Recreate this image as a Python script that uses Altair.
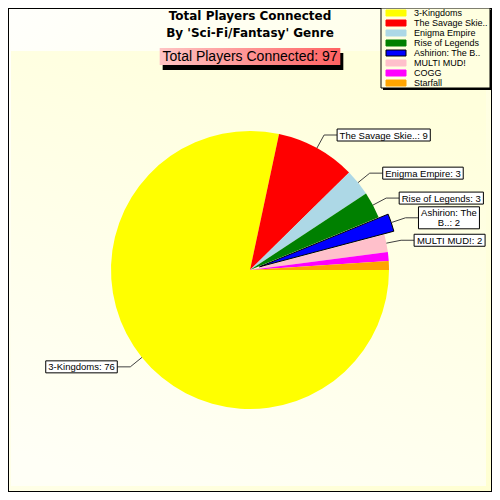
import math
import altair as alt
import pandas as pd

# ---------------- data ----------------
names = ["3-Kingdoms", "The Savage Skie..", "Enigma Empire", "Rise of Legends",
         "Ashirion: The B..", "MULTI MUD!", "COGG", "Starfall"]
values = [76, 9, 3, 3, 2, 2, 1, 1]
colors = ["#ffff00", "#ff0000", "#add8e6", "#008000", "#0000ff", "#ffc0cb", "#ff00ff", "#ffa500"]
exploded = ["Ashirion: The B.."]
min_labeled = 2
title_lines = ["Total Players Connected", "By 'Sci-Fi/Fantasy' Genre"]
total_caption = "Total Players Connected"

# ---------------- layout / style ----------------
W, H = 484, 484
CX, CY, R = 242, 262, 139
EXPLODE = 10
LABEL_FONT = "Liberation Sans"
LABEL_SIZE = 9.5
LINE_H = 10
LEG_X, LEG_Y, LEG_W, LEG_H = 373, 0, 109, 80

total = sum(values)

ARIAL = {" ": 278, "!": 278, "'": 191, "-": 333, ".": 278, "/": 278, ":": 278,
         "A": 667, "B": 667, "C": 722, "D": 722, "E": 667, "F": 611, "G": 778, "H": 722,
         "I": 278, "J": 500, "K": 667, "L": 556, "M": 833, "N": 722, "O": 778, "P": 667,
         "Q": 778, "R": 722, "S": 667, "T": 611, "U": 722, "V": 667, "W": 944, "X": 667,
         "Y": 667, "Z": 611, "a": 556, "b": 556, "c": 500, "d": 556, "e": 556, "f": 278,
         "g": 556, "h": 556, "i": 222, "j": 222, "k": 500, "l": 222, "m": 833, "n": 556,
         "o": 556, "p": 556, "q": 556, "r": 333, "s": 500, "t": 278, "u": 556, "v": 500,
         "w": 722, "x": 500, "y": 500, "z": 500}


def text_w(s, size):
    return sum(ARIAL.get(ch, 556) for ch in s) * size / 1000.0


def wrap(text, avail, size):
    words = text.split(" ")
    lines, cur = [], ""
    for w in words:
        cand = w if not cur else cur + " " + w
        if cur and text_w(cand, size) > avail:
            lines.append(cur)
            cur = w
        else:
            cur = cand
    lines.append(cur)
    return lines


pie_df = pd.DataFrame({
    "name": names, "value": values, "color": colors,
    "idx": list(range(len(names))),
    "exp": [1 if n in exploded else 0 for n in names],
})

theta_scale = alt.Scale(domain=[0, total], range=[math.pi / 2, math.pi / 2 + 2 * math.pi])
stacked = alt.Chart(pie_df).transform_stack(
    stack="value", groupby=[], as_=["start", "end"],
    sort=[alt.SortField("idx", order="ascending")])

pie = stacked.transform_filter("datum.exp == 0").mark_arc(radius=R).encode(
    theta=alt.Theta("start:Q", scale=theta_scale, stack=None),
    theta2="end:Q",
    color=alt.Color("color:N", scale=None),
    x=alt.value(CX), y=alt.value(CY))

layers_pie = [pie]
seg_rows, box_rows, txt_rows = [], [], []
cum = 0
for n, v in zip(names, values):
    mid = (cum + v / 2) / total
    cum += v
    ang = 2 * math.pi * mid
    c, s = math.cos(ang), math.sin(ang)
    off = EXPLODE if n in exploded else 0
    cx, cy = CX + off * c, CY + off * s
    if n in exploded:
        layers_pie.append(
            stacked.transform_filter(alt.FieldEqualPredicate(field="name", equal=n))
            .mark_arc(radius=R, stroke="black", strokeWidth=1)
            .encode(theta=alt.Theta("start:Q", scale=theta_scale, stack=None),
                    theta2="end:Q",
                    color=alt.Color("color:N", scale=None),
                    x=alt.value(cx), y=alt.value(cy)))
    if v < min_labeled:
        continue
    ex, ey = cx + R * c, cy + R * s
    kx, ky = cx + (R + 15) * c, cy + (R + 15) * s
    side = 1 if c >= 0 else -1
    hx = kx + 13 * side
    label = f"{n}: {v}"
    pad = 5
    if side > 0:
        avail = (W - 2) - hx - pad
    else:
        avail = hx - 2 - pad
    lines = wrap(label, avail, LABEL_SIZE)
    bw = max(text_w(l, LABEL_SIZE) for l in lines) + pad
    bh = 2 + LINE_H * len(lines)
    if side > 0:
        x0, x1 = hx, hx + bw
    else:
        x0, x1 = hx - bw, hx
    seg_rows.append({"x": ex, "y": ey, "x2": kx, "y2": ky})
    seg_rows.append({"x": kx, "y": ky, "x2": hx, "y2": ky})
    box_rows.append({"x": x0, "x2": x1, "y": ky - bh / 2, "y2": ky + bh / 2})
    txt_rows.append({"x": (x0 + x1) / 2, "y": ky - bh / 2 + 1.5, "text": "\n".join(lines)})

seg_df = pd.DataFrame(seg_rows)
box_df = pd.DataFrame(box_rows)
txt_df = pd.DataFrame(txt_rows)

leaders = alt.Chart(seg_df).mark_rule(color="#404040", strokeWidth=1).encode(
    x=alt.X("x:Q", scale=None), y=alt.Y("y:Q", scale=None),
    x2="x2:Q", y2="y2:Q")
boxes = alt.Chart(box_df).mark_rect(fill="white", stroke="black", strokeWidth=1).encode(
    x=alt.X("x:Q", scale=None), x2="x2:Q", y=alt.Y("y:Q", scale=None), y2="y2:Q")
labels = alt.Chart(txt_df).mark_text(
    font=LABEL_FONT, fontSize=LABEL_SIZE, color="black", align="center",
    baseline="top", lineBreak="\n", lineHeight=LINE_H).encode(
    x=alt.X("x:Q", scale=None), y=alt.Y("y:Q", scale=None), text="text:N")

one = pd.DataFrame({"a": [0]})

outer = alt.Chart(one).mark_rect(
    fill={"gradient": "linear", "x1": 0, "y1": 0, "x2": 1, "y2": 1,
          "stops": [{"offset": 0, "color": "#fffffc"}, {"offset": 1, "color": "#ffffd2"}]},
    stroke="black", strokeWidth=2).encode(
    x=alt.value(0), x2=alt.value(W), y=alt.value(0), y2=alt.value(H))
inner = alt.Chart(one).mark_rect(
    fill={"gradient": "linear", "x1": 0.6, "y1": 0, "x2": 0.2, "y2": 1,
          "stops": [{"offset": 0, "color": "#ffffdc"}, {"offset": 1, "color": "#fffff6"}]}).encode(
    x=alt.value(3), x2=alt.value(W - 6), y=alt.value(43), y2=alt.value(H - 6))

title_df = pd.DataFrame({"text": title_lines, "y": [8 + 17 * i for i in range(len(title_lines))]})
title = alt.Chart(title_df).mark_text(
    font="DejaVu Sans", fontSize=12, fontWeight="bold", color="black",
    align="center", baseline="middle").encode(
    x=alt.value(W / 2), y=alt.Y("y:Q", scale=None), text="text:N")

sub_text = f"{total_caption}: {total}"
sub_w = text_w(sub_text, 14) + 4
sx0, sx1, sy0, sy1 = W / 2 - sub_w / 2, W / 2 + sub_w / 2, 40, 57
sub_df = pd.DataFrame({"x": [sx0], "x2": [sx1], "y": [sy0], "y2": [sy1],
                       "shx": [sx0 + 3], "shx2": [sx1 + 3], "shy": [sy0 + 5], "shy2": [sy1 + 5],
                       "tx": [W / 2], "ty": [(sy0 + sy1) / 2], "text": [sub_text]})
sub_shadow = alt.Chart(sub_df).mark_rect(fill="black").encode(
    x=alt.X("shx:Q", scale=None), x2="shx2:Q", y=alt.Y("shy:Q", scale=None), y2="shy2:Q")
sub_box = alt.Chart(sub_df).mark_rect(
    fill={"gradient": "linear", "x1": 0, "y1": 0, "x2": 1, "y2": 0,
          "stops": [{"offset": 0, "color": "#ffc4c4"}, {"offset": 1, "color": "#ff6262"}]}).encode(
    x=alt.X("x:Q", scale=None), x2="x2:Q", y=alt.Y("y:Q", scale=None), y2="y2:Q")
sub_txt = alt.Chart(sub_df).mark_text(
    font="Liberation Sans", fontSize=14, color="black", align="center", baseline="middle").encode(
    x=alt.X("tx:Q", scale=None), y=alt.Y("ty:Q", scale=None), text="text:N")

# legend
leg_box_df = pd.DataFrame({"x": [LEG_X], "x2": [LEG_X + LEG_W], "y": [LEG_Y], "y2": [LEG_Y + LEG_H],
                           "shx": [LEG_X + 2], "shx2": [LEG_X + LEG_W + 2],
                           "shy": [LEG_Y + 2], "shy2": [LEG_Y + LEG_H + 2]})
leg_shadow = alt.Chart(leg_box_df).mark_rect(fill="black").encode(
    x=alt.X("shx:Q", scale=None), x2="shx2:Q", y=alt.Y("shy:Q", scale=None), y2="shy2:Q")
leg_box = alt.Chart(leg_box_df).mark_rect(fill="#ffffe0", stroke="black", strokeWidth=1).encode(
    x=alt.X("x:Q", scale=None), x2="x2:Q", y=alt.Y("y:Q", scale=None), y2="y2:Q")
leg_df = pd.DataFrame({
    "name": names, "color": colors,
    "stroke": ["black" if n in exploded else c for n, c in zip(names, colors)],
    "sx": [LEG_X + 5] * len(names), "sx2": [LEG_X + 25] * len(names),
    "cy": [LEG_Y + 5 + 10 * i for i in range(len(names))],
})
leg_df["sy"] = leg_df["cy"] - 3
leg_df["sy2"] = leg_df["cy"] + 3
leg_df["tx"] = LEG_X + 33
leg_sw = alt.Chart(leg_df).mark_rect(strokeWidth=1).encode(
    x=alt.X("sx:Q", scale=None), x2="sx2:Q", y=alt.Y("sy:Q", scale=None), y2="sy2:Q",
    fill=alt.Fill("color:N", scale=None), stroke=alt.Stroke("stroke:N", scale=None))
leg_txt = alt.Chart(leg_df).mark_text(
    font="Liberation Sans", fontSize=9, color="black", align="left", baseline="middle").encode(
    x=alt.X("tx:Q", scale=None), y=alt.Y("cy:Q", scale=None), text="name:N")

chart = alt.layer(
    outer, inner, *layers_pie, leaders, boxes, labels, title,
    sub_shadow, sub_box, sub_txt, leg_shadow, leg_box, leg_sw, leg_txt
).properties(
    width=W, height=H, autosize=alt.AutoSizeParams(type="none"), padding=0,
    background="#ffffff"
).configure_view(stroke=None)

chart.save("out.html", embed_options={"renderer": "svg", "actions": False})
